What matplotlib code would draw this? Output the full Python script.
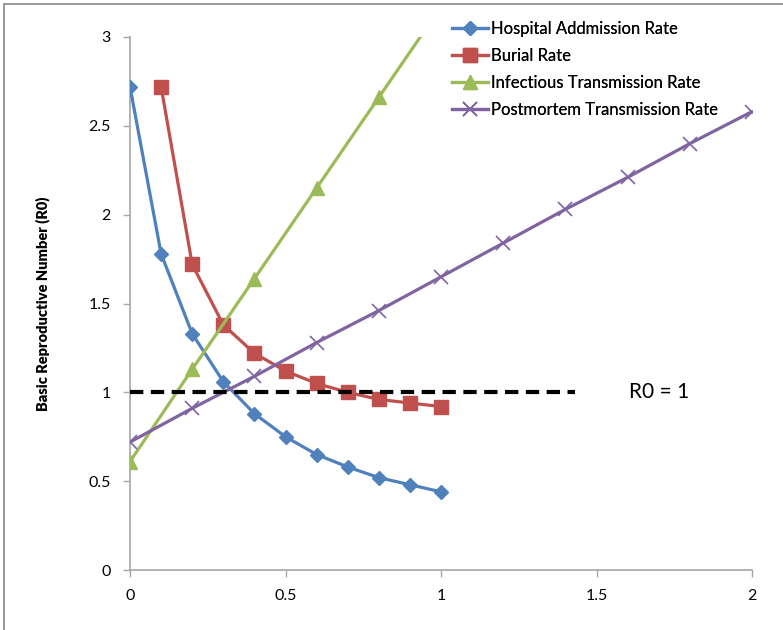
import matplotlib
matplotlib.use("Agg")
import matplotlib.pyplot as plt
from matplotlib.patches import Rectangle

plt.rcParams['font.family'] = ['Lato', 'DejaVu Sans']

# Data
hosp_x = [0.0, 0.1, 0.2, 0.3, 0.4, 0.5, 0.6, 0.7, 0.8, 0.9, 1.0]
hosp_y = [2.72, 1.78, 1.33, 1.06, 0.88, 0.75, 0.65, 0.58, 0.52, 0.48, 0.44]

burial_x = [0.1, 0.2, 0.3, 0.4, 0.5, 0.6, 0.7, 0.8, 0.9, 1.0]
burial_y = [2.72, 1.72, 1.38, 1.22, 1.12, 1.05, 1.00, 0.96, 0.94, 0.92]

infect_x = [0.0, 0.2, 0.4, 0.6, 0.8, 1.0]
infect_y = [0.61, 1.13, 1.64, 2.15, 2.66, 3.17]

post_x = [0.0, 0.2, 0.4, 0.6, 0.8, 1.0, 1.2, 1.4, 1.6, 1.8, 2.0]
post_y = [0.72, 0.91, 1.09, 1.28, 1.46, 1.65, 1.84, 2.03, 2.21, 2.40, 2.58]

thresh_x = [0.0, 1.43]
thresh_y = [1.0, 1.0]

labels = ["Hospital Addmission Rate", "Burial Rate",
          "Infectious Transmission Rate", "Postmortem Transmission Rate"]
xticks = [0, 0.5, 1, 1.5, 2]
yticks = [0, 0.5, 1, 1.5, 2, 2.5, 3]
ylabel = "Basic Reproductive Number (R0)"
annot = "R0 = 1"

fig = plt.figure(figsize=(7.83, 6.3), dpi=100)
# outer border (Excel chart area), only top/left visible
fig.patches.append(Rectangle((4/783, -0.1), 1.2, 1 - 4/630 + 0.1,
                             transform=fig.transFigure, fill=False,
                             edgecolor='#868686', linewidth=1.2))

ax = fig.add_axes([130/783, 1 - 570/630, (752 - 130)/783, (570 - 37)/630])

lw = 2.3
ax.plot(hosp_x, hosp_y, color='#4F81BD', lw=lw, marker='D', ms=7.5,
        label=labels[0], zorder=3)
ax.plot(burial_x, burial_y, color='#C0504D', lw=lw, marker='s', ms=10,
        label=labels[1], zorder=3)
ax.plot(infect_x, infect_y, color='#9BBB59', lw=lw, marker='^', ms=10,
        label=labels[2], zorder=3)
ax.plot(post_x, post_y, color='#8064A2', lw=lw, marker='x', ms=10, mew=1.2,
        label=labels[3], zorder=3)
ax.plot(thresh_x, thresh_y, color='black', lw=3, linestyle=(0, (3.2, 1.8)),
        zorder=4)

ax.text(1.70, 1.0, annot, fontsize=15, ha='center', va='center')

ax.set_xlim(0, 2)
ax.set_ylim(0, 3)
ax.set_xticks(xticks)
ax.set_xticklabels([f"{t:g}" for t in xticks])
ax.set_yticks(yticks)
ax.set_yticklabels([f"{t:g}" for t in yticks])

for s in ['top', 'right']:
    ax.spines[s].set_visible(False)
for s in ['left', 'bottom']:
    ax.spines[s].set_color('#A6A6A6')
    ax.spines[s].set_linewidth(1.2)
ax.tick_params(axis='both', direction='out', length=5, color='#A6A6A6',
               width=1, labelsize=11.5, pad=9)

ax.set_ylabel(ylabel, fontsize=10.5, fontweight='heavy')
ax.yaxis.set_label_coords(-(130 - 50) / 622, 0.5)

leg = fig.legend(loc='upper left', bbox_to_anchor=(445/783, 1 - 14/630),
                 frameon=False, fontsize=12, handlelength=2.2,
                 handletextpad=0.15, labelspacing=0.66, borderaxespad=0)
fig.add_artist(leg)

fig.savefig("out.png", dpi=100)
